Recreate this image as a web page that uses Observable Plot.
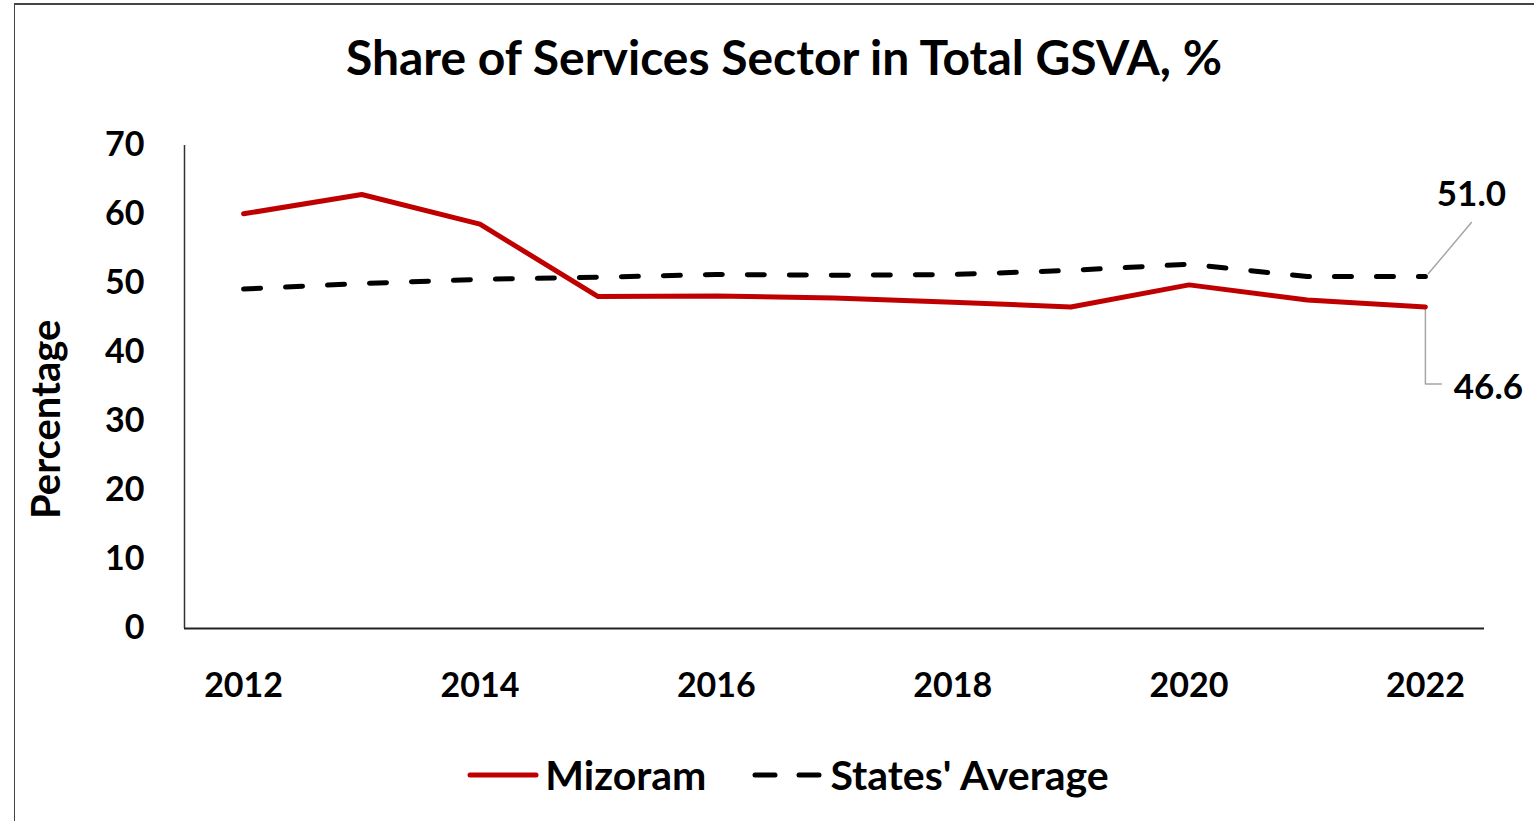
<!DOCTYPE html>
<html>
<head>
<meta charset="utf-8">
<script src="https://cdn.jsdelivr.net/npm/d3@7"></script>
<script src="https://cdn.jsdelivr.net/npm/@observablehq/plot@0.6"></script>
<style>
  html, body { margin: 0; padding: 0; background: #fff; }
  body { width: 1534px; height: 821px; overflow: hidden; position: relative; font-family: Lato, "Open Sans", sans-serif; font-weight: bold; color: #000; }
  #frame { position: absolute; left: 14px; top: 3px; width: 1600px; height: 900px; border-top: 2px solid #444; border-left: 1.5px solid #444; box-sizing: border-box; }
  #title { position: absolute; top: 29px; left: 0; width: 1568px; text-align: center; font-size: 48px; font-weight: bold; line-height: 56px; }
  #chart { position: absolute; left: 0; top: 115px; }
  #legend { position: absolute; top: 750px; left: 0; width: 1576px; display: flex; justify-content: center; align-items: center; font-size: 41px; line-height: 50px; }
  #legend .item { display: flex; align-items: center; }
  #legend svg { display: block; }
</style>
</head>
<body>
<div id="frame"></div>
<div id="title">Share of Services Sector in Total GSVA, %</div>
<div id="chart"></div>
<div id="legend"></div>
<script>
const years = [2012, 2013, 2014, 2015, 2016, 2017, 2018, 2019, 2020, 2021, 2022];
const mizoram = [60.1, 62.9, 58.6, 48.1, 48.2, 47.9, 47.3, 46.6, 49.8, 47.6, 46.6];
const statesAverage = [49.2, 50.0, 50.6, 50.9, 51.3, 51.2, 51.3, 51.9, 52.8, 51.0, 51.0];
const seriesNames = ["Mizoram", "States' Average"];
const xTicks = [2012, 2014, 2016, 2018, 2020, 2022];
const yTicks = [0, 10, 20, 30, 40, 50, 60, 70];

const colors = {"Mizoram": "#C00000", "States' Average": "#000000"};

const rows = [];
years.forEach((yr, i) => {
  rows.push({year: yr, value: mizoram[i], series: seriesNames[0]});
  rows.push({year: yr, value: statesAverage[i], series: seriesNames[1]});
});
const mizRows = rows.filter(d => d.series === seriesNames[0]);
const avgRows = rows.filter(d => d.series === seriesNames[1]);
const lastMiz = mizRows[mizRows.length - 1];
const lastAvg = avgRows[avgRows.length - 1];

// pixel offsets for the callouts, converted into data units below
const W = 1534, H = 600, mL = 184, mR = 50, mT = 30, mB = 87;
const xDomain = [2011.5, 2022.5], yDomain = [0, 70];
const pxPerYear = (W - mL - mR) / (xDomain[1] - xDomain[0]);
const pxPerUnit = (H - mT - mB) / (yDomain[1] - yDomain[0]);

const avgLeader = [
  {year: lastAvg.year + 3 / pxPerYear, value: lastAvg.value + 3 / pxPerUnit},
  {year: lastAvg.year + 46 / pxPerYear, value: lastAvg.value + 54 / pxPerUnit}
];
const mizLeader = [
  {year: lastMiz.year, value: lastMiz.value - 2 / pxPerUnit},
  {year: lastMiz.year, value: lastMiz.value - 77 / pxPerUnit},
  {year: lastMiz.year + 16 / pxPerYear, value: lastMiz.value - 77 / pxPerUnit}
];

const fontStyle = {fontFamily: "Lato, 'Open Sans', sans-serif", fontWeight: "bold", fontSize: "34px", color: "#000", background: "transparent", overflow: "visible"};

const chart = Plot.plot({
  width: W, height: H,
  marginLeft: mL, marginRight: mR, marginTop: mT, marginBottom: mB,
  style: fontStyle,
  x: {domain: xDomain},
  y: {domain: yDomain},
  marks: [
    Plot.axisY({ticks: yTicks, tickSize: 0, tickPadding: 40, label: null, fontSize: 34, fontWeight: "bold"}),
    Plot.axisX({ticks: xTicks, tickSize: 0, tickPadding: 44, tickFormat: d => String(d), label: null, fontSize: 34}),
    Plot.ruleX([xDomain[0]], {stroke: "#333", strokeWidth: 1.5}),
    Plot.ruleY([0], {stroke: "#222", strokeWidth: 2}),
    Plot.text(["Percentage"], {frameAnchor: "left", text: d => d, rotate: -90, dx: -137, dy: 132, fontSize: 40, fontWeight: "bold"}),
    Plot.line(avgLeader, {x: "year", y: "value", stroke: "#a6a6a6", strokeWidth: 1.5}),
    Plot.line(mizLeader, {x: "year", y: "value", stroke: "#a6a6a6", strokeWidth: 1.5}),
    Plot.line(avgRows, {x: "year", y: "value", stroke: colors["States' Average"], strokeWidth: 5, strokeDasharray: "17,25", strokeLinecap: "round"}),
    Plot.line(mizRows, {x: "year", y: "value", stroke: colors["Mizoram"], strokeWidth: 5, strokeLinecap: "round", strokeLinejoin: "round"}),
    Plot.text([lastAvg], {x: "year", y: "value", text: d => d.value.toFixed(1), dx: 46, dy: -82, fontSize: 35, fontWeight: "bold", fill: "#000"}),
    Plot.text([lastMiz], {x: "year", y: "value", text: d => d.value.toFixed(1), dx: 63, dy: 81, fontSize: 35, fontWeight: "bold", fill: "#000"})
  ]
});
document.getElementById("chart").appendChild(chart);

// legend
const legend = document.getElementById("legend");
seriesNames.forEach((name, i) => {
  const item = document.createElement("div");
  item.className = "item";
  if (i > 0) item.style.marginLeft = "46px";
  const sw = d3.create("svg").attr("width", 72).attr("height", 20).style("margin-right", "6px");
  const ln = sw.append("line").attr("x1", 3).attr("x2", 69).attr("y1", 10).attr("y2", 10)
    .attr("stroke", colors[name]).attr("stroke-width", 5).attr("stroke-linecap", "round");
  if (name === "States' Average") ln.attr("stroke-dasharray", "20,24");
  item.appendChild(sw.node());
  const t = document.createElement("span");
  t.textContent = name;
  item.appendChild(t);
  legend.appendChild(item);
});
</script>
</body>
</html>
